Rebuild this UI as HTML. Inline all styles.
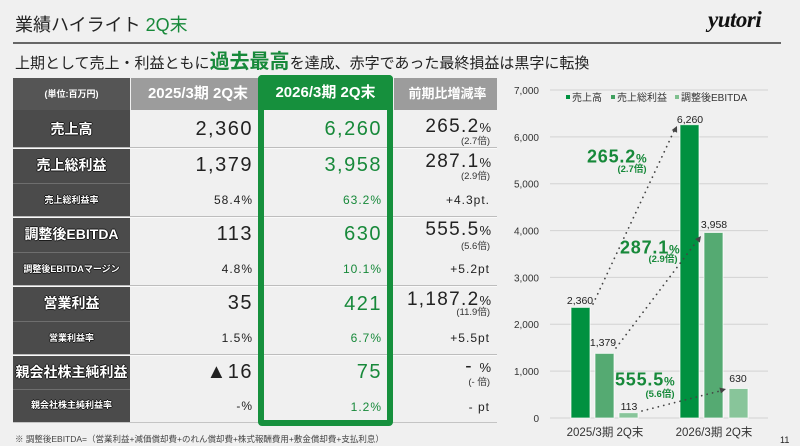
<!DOCTYPE html>
<html>
<head>
<meta charset="utf-8">
<style>
*{margin:0;padding:0;box-sizing:border-box;}
body{width:800px;height:446px;background:#f0f0f0;position:relative;overflow:hidden;font-family:"Liberation Sans","Noto Sans CJK JP",sans-serif;color:#222;}
.a{position:absolute;white-space:nowrap;}
.lab{position:absolute;left:13px;width:117px;text-align:center;color:#fff;font-weight:bold;font-family:"Liberation Sans","Noto Sans CJK JP",sans-serif;text-shadow:-1px 0 #1a1a1a,1px 0 #1a1a1a,0 -1px #1a1a1a,0 1px #1a1a1a;}
.big{font-size:14px;}
.sm{font-size:9px;}
.v1,.v2,.v3{position:absolute;white-space:nowrap;text-align:right;}
.v1{right:547px;}
.v2{right:418px;color:#17893a;}
.v3{right:309px;}
.bn{font-size:20px;line-height:24px;letter-spacing:1.5px;}
.sn{font-size:12px;line-height:14px;letter-spacing:1px;}
.cn{font-size:19px;line-height:22px;letter-spacing:1.3px;}
.cn span{font-size:13px;letter-spacing:0;}
.sub{font-size:9.5px;line-height:10px;color:#333;}
.hl{position:absolute;height:1px;}
</style>
</head>
<body>

<!-- Title -->
<div class="a" style="left:15px;top:13px;font-size:18px;line-height:24px;color:#222;">業績ハイライト <span style="color:#17893a;">2Q末</span></div>
<div class="a" style="left:708px;top:6px;font-family:'Liberation Serif',serif;font-weight:bold;font-style:italic;font-size:23px;line-height:28px;color:#111;letter-spacing:-0.5px;">yutori</div>
<div class="a" style="left:13px;top:42px;width:768px;height:2px;background:#666;"></div>

<!-- Subtitle -->
<div class="a" style="left:15px;top:50px;font-size:15px;line-height:24px;color:#222;">上期として売上・利益ともに<span style="font-size:20px;font-weight:bold;color:#17893a;">過去最高</span>を達成、赤字であった最終損益は黒字に転換</div>

<!-- Table headers -->
<div class="a" style="left:13px;top:78px;width:117px;height:32px;background:#555;"></div>
<div class="a" style="left:13px;top:78px;width:117px;line-height:32px;text-align:center;color:#fff;font-size:9px;font-weight:bold;">(単位:百万円)</div>
<div class="a" style="left:131px;top:78px;width:127px;height:32px;background:#9c9c9c;"></div>
<div class="a" style="left:131px;top:78px;width:134px;line-height:32px;text-align:center;color:#fff;font-size:15px;font-weight:bold;">2025/3期 2Q末</div>
<div class="a" style="left:394px;top:78px;width:103px;height:32px;background:#9c9c9c;"></div>
<div class="a" style="left:398px;top:78px;width:99px;line-height:32px;text-align:center;color:#fff;font-size:13px;font-weight:bold;">前期比増減率</div>

<!-- Label column -->
<div class="a" style="left:13px;top:110px;width:117px;height:312px;background:#4b4b4b;"></div>
<div class="hl" style="left:13px;width:117px;top:183px;background:#6e6e6e;"></div>
<div class="hl" style="left:13px;width:117px;top:252px;background:#6e6e6e;"></div>
<div class="hl" style="left:13px;width:117px;top:321px;background:#6e6e6e;"></div>
<div class="hl" style="left:13px;width:117px;top:389px;background:#6e6e6e;"></div>

<!-- Value separators -->
<div class="hl" style="left:13px;width:484px;top:147px;background:#bdbdbd;height:1px;"></div>
<div class="hl" style="left:13px;width:484px;top:148px;background:#fafafa;"></div>
<div class="hl" style="left:13px;width:484px;top:216px;background:#bdbdbd;"></div>
<div class="hl" style="left:13px;width:484px;top:217px;background:#fafafa;"></div>
<div class="hl" style="left:13px;width:484px;top:285px;background:#bdbdbd;"></div>
<div class="hl" style="left:13px;width:484px;top:286px;background:#fafafa;"></div>
<div class="hl" style="left:13px;width:484px;top:354px;background:#bdbdbd;"></div>
<div class="hl" style="left:13px;width:484px;top:355px;background:#fafafa;"></div>
<div class="hl" style="left:13px;width:484px;top:422px;background:#c4c4c4;"></div>

<!-- Labels -->
<div class="lab big" style="top:110px;line-height:38px;">売上高</div>
<div class="lab big" style="top:148px;line-height:35px;">売上総利益</div>
<div class="lab sm" style="top:183px;line-height:34px;">売上総利益率</div>
<div class="lab big" style="top:217px;line-height:35px;">調整後EBITDA</div>
<div class="lab sm" style="top:252px;line-height:34px;">調整後EBITDAマージン</div>
<div class="lab big" style="top:286px;line-height:35px;">営業利益</div>
<div class="lab sm" style="top:321px;line-height:34px;">営業利益率</div>
<div class="lab big" style="top:355px;line-height:34px;">親会社株主純利益</div>
<div class="lab sm" style="top:389px;line-height:33px;">親会社株主純利益率</div>

<!-- 2025 column -->
<div class="v1 bn" style="top:117px;">2,360</div>
<div class="v1 bn" style="top:153px;">1,379</div>
<div class="v1 sn" style="top:193px;">58.4%</div>
<div class="v1 bn" style="top:222px;">113</div>
<div class="v1 sn" style="top:262px;">4.8%</div>
<div class="v1 bn" style="top:291px;">35</div>
<div class="v1 sn" style="top:331px;">1.5%</div>
<div class="v1 bn" style="top:360px;">▲16</div>
<div class="v1 sn" style="top:399px;">-%</div>

<!-- 2026 column -->
<div class="v2 bn" style="top:117px;">6,260</div>
<div class="v2 bn" style="top:153px;">3,958</div>
<div class="v2 sn" style="top:193px;">63.2%</div>
<div class="v2 bn" style="top:222px;">630</div>
<div class="v2 sn" style="top:262px;">10.1%</div>
<div class="v2 bn" style="top:292px;">421</div>
<div class="v2 sn" style="top:331px;">6.7%</div>
<div class="v2 bn" style="top:360px;">75</div>
<div class="v2 sn" style="top:400px;">1.2%</div>

<!-- Change column -->
<div class="v3 cn" style="top:116px;">265.2<span>%</span></div>
<div class="v3 sub" style="top:137px;right:310px;">(2.7倍)</div>
<div class="v3 cn" style="top:151px;">287.1<span>%</span></div>
<div class="v3 sub" style="top:172px;right:310px;">(2.9倍)</div>
<div class="v3 sn" style="top:193px;right:310px;">+4.3pt.</div>
<div class="v3 cn" style="top:219px;">555.5<span>%</span></div>
<div class="v3 sub" style="top:242px;right:310px;">(5.6倍)</div>
<div class="v3 sn" style="top:262px;right:310px;">+5.2pt</div>
<div class="v3 cn" style="top:289px;">1,187.2<span>%</span></div>
<div class="v3 sub" style="top:308px;right:310px;">(11.9倍)</div>
<div class="v3 sn" style="top:331px;right:310px;">+5.5pt</div>
<div class="v3 cn" style="top:356px;">- <span>%</span></div>
<div class="v3 sub" style="top:378px;right:310px;">(- 倍)</div>
<div class="v3 sn" style="top:400px;right:310px;">- pt</div>

<!-- Green frame -->
<div class="a" style="left:258px;top:75px;width:135px;height:35px;background:#16903d;border-radius:4px 4px 0 0;"></div>
<div class="a" style="left:258px;top:75px;width:135px;height:351px;border:6px solid #16903d;border-radius:4px;"></div>
<div class="a" style="left:258px;top:75px;width:135px;line-height:36px;text-align:center;color:#fff;font-size:15px;font-weight:bold;">2026/3期 2Q末</div>

<!-- Footnote -->
<div class="a" style="left:15px;top:433px;font-size:8.5px;line-height:12px;color:#444;">※ 調整後EBITDA=（営業利益+減価償却費+のれん償却費+株式報酬費用+敷金償却費+支払利息）</div>
<div class="a" style="left:780px;top:434px;font-size:9px;line-height:12px;color:#222;">11</div>

<!-- Chart -->
<svg class="a" style="left:500px;top:0;" width="300" height="446" viewBox="500 0 300 446" xmlns="http://www.w3.org/2000/svg">
  <g stroke="#d2d2d2" stroke-width="1">
    <line x1="550" x2="768" y1="90" y2="90"/>
    <line x1="550" x2="768" y1="136.9" y2="136.9"/>
    <line x1="550" x2="768" y1="183.7" y2="183.7"/>
    <line x1="550" x2="768" y1="230.6" y2="230.6"/>
    <line x1="550" x2="768" y1="277.4" y2="277.4"/>
    <line x1="550" x2="768" y1="324.3" y2="324.3"/>
    <line x1="550" x2="768" y1="371.1" y2="371.1"/>
    <line x1="550" x2="768" y1="418" y2="418"/>
  </g>
  <g font-family="Liberation Sans, sans-serif" font-size="10" fill="#333" text-anchor="end">
    <text x="539" y="94">7,000</text>
    <text x="539" y="141">6,000</text>
    <text x="539" y="187.5">5,000</text>
    <text x="539" y="234.5">4,000</text>
    <text x="539" y="281.5">3,000</text>
    <text x="539" y="328">2,000</text>
    <text x="539" y="375">1,000</text>
    <text x="539" y="422">0</text>
  </g>
  <!-- legend -->
  <g font-family="Liberation Sans, Noto Sans CJK JP, sans-serif" font-size="10" fill="#333">
    <rect x="566" y="95" width="4" height="4" fill="#009140"/>
    <text x="572" y="101">売上高</text>
    <rect x="611" y="95" width="4" height="4" fill="#3f9f5e"/>
    <text x="617" y="101">売上総利益</text>
    <rect x="675" y="95" width="4" height="4" fill="#7fc08f"/>
    <text x="681" y="101">調整後EBITDA</text>
  </g>
  <!-- bars -->
  <g stroke="#ffffff" stroke-width="1" stroke-opacity="0.7">
    <rect x="571" y="307.4" width="19" height="110.6" fill="#009140"/>
    <rect x="595" y="353.4" width="19" height="64.6" fill="#55aa72"/>
    <rect x="619" y="412.7" width="19" height="5.3" fill="#88c59a"/>
    <rect x="680" y="124.7" width="19" height="293.3" fill="#009140"/>
    <rect x="704" y="232.5" width="19" height="185.5" fill="#55aa72"/>
    <rect x="729" y="388.5" width="19" height="29.5" fill="#88c59a"/>
  </g>
  <!-- data labels -->
  <g font-family="Liberation Sans, sans-serif" font-size="10.5" fill="#222" text-anchor="middle">
    <text x="690" y="123">6,260</text>
    <text x="714" y="228">3,958</text>
    <text x="580" y="304">2,360</text>
    <text x="603" y="346">1,379</text>
    <text x="629" y="410">113</text>
    <text x="738" y="382">630</text>
  </g>
  <!-- dotted arrows -->
  <g fill="none" stroke="#444" stroke-width="1.7" stroke-linecap="round" stroke-dasharray="0.1 5.5">
    <line x1="593" y1="304" x2="674" y2="131"/>
    <line x1="616" y1="348" x2="697" y2="241"/>
    <line x1="642" y1="411" x2="720" y2="391"/>
  </g>
  <g fill="#444">
    <polygon points="677,126 677.1,132.7 671.7,130.1"/>
    <polygon points="701,236 699.8,242.6 695,239"/>
    <polygon points="726,389 721,393.4 719.4,387.6"/>
  </g>
  <!-- annotations -->
  <g font-family="Liberation Sans, Noto Sans CJK JP, sans-serif" font-weight="bold" fill="#17893a">
    <text x="587" y="162.5" font-size="18" letter-spacing="0.8">265.2<tspan font-size="12" letter-spacing="0">%</tspan></text>
    <text x="632" y="172" font-size="9.5" text-anchor="middle">(2.7倍)</text>
    <text x="620" y="253.5" font-size="18" letter-spacing="0.8">287.1<tspan font-size="12" letter-spacing="0">%</tspan></text>
    <text x="663" y="262" font-size="9.5" text-anchor="middle">(2.9倍)</text>
    <text x="615" y="385.5" font-size="18" letter-spacing="0.8">555.5<tspan font-size="12" letter-spacing="0">%</tspan></text>
    <text x="660" y="397" font-size="9.5" text-anchor="middle">(5.6倍)</text>
  </g>
  <!-- x labels -->
  <g font-family="Liberation Sans, Noto Sans CJK JP, sans-serif" font-size="11.5" fill="#333" text-anchor="middle">
    <text x="605" y="436">2025/3期 2Q末</text>
    <text x="714" y="436">2026/3期 2Q末</text>
  </g>
</svg>

</body>
</html>
